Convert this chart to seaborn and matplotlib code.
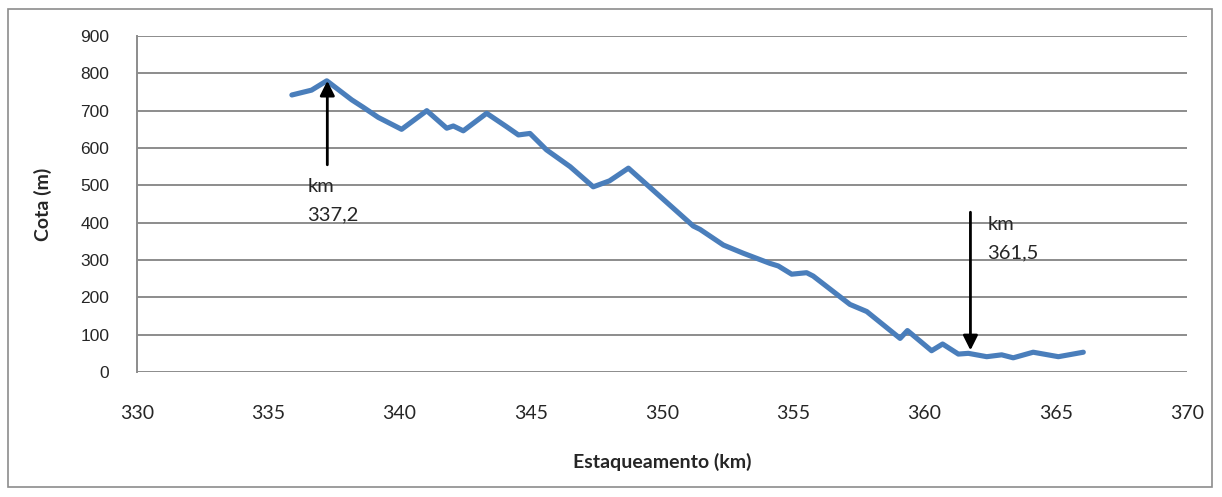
import matplotlib
matplotlib.use("Agg")
import matplotlib.pyplot as plt
import seaborn as sns
import pandas as pd
from matplotlib.patches import Rectangle

km = [335.9, 336.65, 337.23, 338.18, 338.62, 339.19, 340.08, 341.04, 341.8, 342.05,
      342.43, 343.32, 344.08, 344.53, 344.97, 345.6, 346.5, 347.38, 348.0, 348.72,
      351.19, 351.45, 352.34, 353.1, 354.11, 354.43, 354.94, 355.51, 355.76, 357.16,
      357.8, 359.07, 359.35, 360.27, 360.69, 361.29, 361.67, 362.37, 362.94, 363.38,
      364.14, 365.1, 366.05]
cota = [742, 755, 780, 729, 709, 682, 650, 700, 653, 659,
        646, 693, 657, 635, 639, 595, 550, 496, 512, 546,
        391, 382, 340, 318, 291, 284, 262, 266, 257, 181,
        162, 90, 111, 57, 75, 48, 50, 41, 46, 38,
        53, 41, 53]

arrow1_km, arrow1_from, arrow1_to = 337.25, 555, 780
arrow2_km, arrow2_from, arrow2_to = 361.75, 428, 58
label1 = "km\n337,2"
label2 = "km\n361,5"
x_ticks = [330, 335, 340, 345, 350, 355, 360, 365, 370]
y_ticks = [0, 100, 200, 300, 400, 500, 600, 700, 800, 900]

df = pd.DataFrame({"km": km, "cota": cota})

sns.set_style("white")
fig = plt.figure(figsize=(12.22, 4.97), dpi=100)
ax = fig.add_axes([137/1222, 1-372/497, 1050/1222, 336/497])

sns.lineplot(data=df, x="km", y="cota", ax=ax, color="#4A7EBB", linewidth=3.7,
             solid_joinstyle="round", solid_capstyle="round", sort=False)

ax.set_xlim(330, 370)
ax.set_ylim(0, 900)
ax.set_xticks(x_ticks)
ax.set_yticks(y_ticks)
ax.set_xticklabels([str(t) for t in x_ticks], fontsize=14, family="Lato")
ax.set_yticklabels([str(t) for t in y_ticks], fontsize=12.5, family="Liberation Sans")
ax.tick_params(axis="x", length=0, pad=24)
ax.tick_params(axis="y", length=0, pad=20)
ax.grid(axis="y", color="#8C8C8C", linewidth=1.4)
ax.grid(axis="x", visible=False)
ax.set_axisbelow(True)
for s in ["top", "right", "bottom"]:
    ax.spines[s].set_visible(False)
ax.spines["left"].set_color("#8C8C8C")
ax.spines["left"].set_linewidth(1.4)

ax.set_xlabel("Estaqueamento (km)", fontsize=14, fontweight="bold", family="Lato", labelpad=22)
ax.set_ylabel("Cota (m)", fontsize=14, fontweight="bold", family="Lato", labelpad=20)

arrowprops = dict(arrowstyle="-|>", color="black", lw=2, mutation_scale=22, shrinkA=0, shrinkB=0)
ax.annotate("", xy=(arrow1_km, arrow1_to), xytext=(arrow1_km, arrow1_from), arrowprops=arrowprops)
ax.annotate("", xy=(arrow2_km, arrow2_to), xytext=(arrow2_km, arrow2_from), arrowprops=arrowprops)
ax.text(336.5, 520, label1, fontsize=14.5, family="Lato", va="top", ha="left", linespacing=1.8)
ax.text(362.4, 418, label2, fontsize=14.5, family="Lato", va="top", ha="left", linespacing=1.8)

fig.patches.append(Rectangle((8/1222, 10/497), 1204/1222, 478/497, transform=fig.transFigure,
                             fill=False, edgecolor="#8C8C8C", linewidth=1.2))

fig.savefig("out.png", dpi=100)
